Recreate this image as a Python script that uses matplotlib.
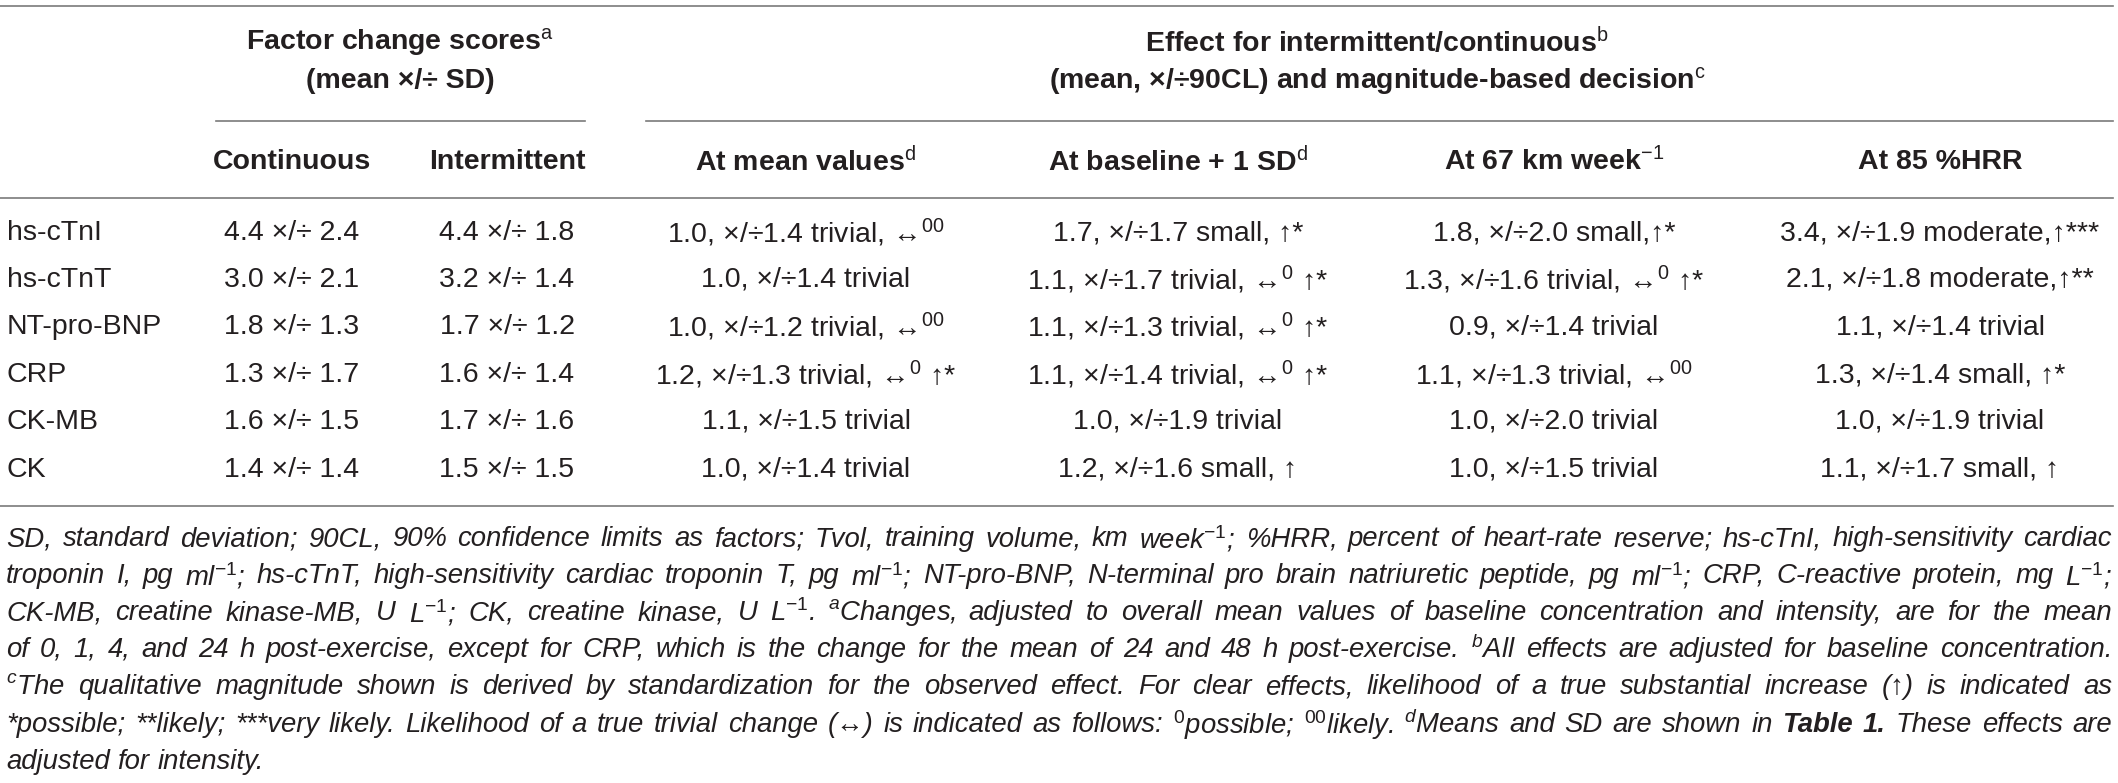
import numpy as np
import matplotlib
matplotlib.use('Agg')
import matplotlib.pyplot as plt

# fonts
plt.rcParams['font.family'] = ['Liberation Sans', 'DejaVu Sans']
plt.rcParams['mathtext.fontset'] = 'custom'
plt.rcParams['mathtext.rm'] = 'Liberation Sans'
plt.rcParams['mathtext.it'] = 'Liberation Sans:italic'
plt.rcParams['mathtext.bf'] = 'Liberation Sans:bold'

# table content
markers = ['hs-cTnI', 'hs-cTnT', 'NT-pro-BNP', 'CRP', 'CK-MB', 'CK']
continuous = ['4.4 ×/÷ 2.4', '3.0 ×/÷ 2.1', '1.8 ×/÷ 1.3', '1.3 ×/÷ 1.7', '1.6 ×/÷ 1.5', '1.4 ×/÷ 1.4']
intermittent = ['4.4 ×/÷ 1.8', '3.2 ×/÷ 1.4', '1.7 ×/÷ 1.2', '1.6 ×/÷ 1.4', '1.7 ×/÷ 1.6', '1.5 ×/÷ 1.5']
at_mean = ['1.0, ×/÷1.4 trivial, ↔$^{00}$', '1.0, ×/÷1.4 trivial', '1.0, ×/÷1.2 trivial, ↔$^{00}$',
           '1.2, ×/÷1.3 trivial, ↔$^{0}$ ↑*', '1.1, ×/÷1.5 trivial', '1.0, ×/÷1.4 trivial']
at_baseline = ['1.7, ×/÷1.7 small, ↑*', '1.1, ×/÷1.7 trivial, ↔$^{0}$ ↑*', '1.1, ×/÷1.3 trivial, ↔$^{0}$ ↑*',
               '1.1, ×/÷1.4 trivial, ↔$^{0}$ ↑*', '1.0, ×/÷1.9 trivial', '1.2, ×/÷1.6 small, ↑']
at_67km = ['1.8, ×/÷2.0 small,↑*', '1.3, ×/÷1.6 trivial, ↔$^{0}$ ↑*', '0.9, ×/÷1.4 trivial',
           '1.1, ×/÷1.3 trivial, ↔$^{00}$', '1.0, ×/÷2.0 trivial', '1.0, ×/÷1.5 trivial']
at_85hrr = ['3.4, ×/÷1.9 moderate,↑***', '2.1, ×/÷1.8 moderate,↑**', '1.1, ×/÷1.4 trivial',
            '1.3, ×/÷1.4 small, ↑*', '1.0, ×/÷1.9 trivial', '1.1, ×/÷1.7 small, ↑']

group_headers = [('Factor change scores$^{\\mathrm{a}}$', '(mean ×/÷ SD)'),
                 ('Effect for intermittent/continuous$^{\\mathrm{b}}$',
                  '(mean, ×/÷90CL) and magnitude-based decision$^{\\mathrm{c}}$')]
col_headers = ['Continuous', 'Intermittent', 'At mean values$^{\\mathrm{d}}$',
               'At baseline + 1 SD$^{\\mathrm{d}}$', 'At 67 km week$^{-1}$', 'At 85 %HRR']

footnote = [
    'SD, standard deviation; 90CL, 90% confidence limits as factors; Tvol, training volume, km week$^{-1}$; %HRR, percent of heart-rate reserve; hs-cTnI, high-sensitivity cardiac',
    'troponin I, pg ml$^{-1}$; hs-cTnT, high-sensitivity cardiac troponin T, pg ml$^{-1}$; NT-pro-BNP, N-terminal pro brain natriuretic peptide, pg ml$^{-1}$; CRP, C-reactive protein, mg L$^{-1}$;',
    'CK-MB, creatine kinase-MB, U L$^{-1}$; CK, creatine kinase, U L$^{-1}$. $^{a}$Changes, adjusted to overall mean values of baseline concentration and intensity, are for the mean',
    'of 0, 1, 4, and 24 h post-exercise, except for CRP, which is the change for the mean of 24 and 48 h post-exercise. $^{b}$All effects are adjusted for baseline concentration.',
    '$^{c}$The qualitative magnitude shown is derived by standardization for the observed effect. For clear effects, likelihood of a true substantial increase (↑) is indicated as',
    '*possible; **likely; ***very likely. Likelihood of a true trivial change (↔) is indicated as follows: $^{0}$possible; $^{00}$likely. $^{d}$Means and SD are shown in !Table !1. These effects are',
    'adjusted for intensity.',
]

W, H = 2118, 783
fig = plt.figure(figsize=(W / 100, H / 100), dpi=100)
ax = fig.add_axes([0, 0, 1, 1])
ax.set_xlim(0, W)
ax.set_ylim(H, 0)
ax.axis('off')

txt_col = '#231f20'
rule_col = '#7a7a7a'
fs = 20.5

col_x = [292, 507, 806, 1178, 1554, 1940]
row_y = [233, 280, 327, 375, 422, 470]

# rules
ax.plot([0, 2113], [6, 6], color=rule_col, lw=1.2)
ax.plot([216, 585], [121, 121], color=rule_col, lw=1.2)
ax.plot([646, 2113], [121, 121], color=rule_col, lw=1.2)
ax.plot([0, 2113], [198, 198], color=rule_col, lw=1.2)
ax.plot([0, 2113], [506, 506], color=rule_col, lw=1.2)

# group headers
for (l1, l2), cx in zip(group_headers, [400, 1377]):
    ax.text(cx, 42, l1, ha='center', va='center', fontsize=fs, fontweight='bold', color=txt_col)
    ax.text(cx, 81, l2, ha='center', va='center', fontsize=fs, fontweight='bold', color=txt_col)

for h, cx in zip(col_headers, col_x):
    ax.text(cx, 162, h, ha='center', va='center', fontsize=fs, fontweight='bold', color=txt_col)

columns = [continuous, intermittent, at_mean, at_baseline, at_67km, at_85hrr]
for i, m in enumerate(markers):
    ax.text(7, row_y[i], m, ha='left', va='center', fontsize=fs, color=txt_col)
    for col, cx in zip(columns, col_x):
        ax.text(cx, row_y[i], col[i], ha='center', va='center', fontsize=fs, color=txt_col)

# footnote, justified
fig.canvas.draw()
renderer = fig.canvas.get_renderer()
fn_fs = 19.8
fn_left, fn_right = 6, 2112
fn_y = [539, 576, 613, 650, 687, 725, 762]
for k, line in enumerate(footnote):
    words = line.split(' ')
    items = []
    for w in words:
        bold = w.startswith('!')
        t = ax.text(0, fn_y[k], w.lstrip('!'), ha='left', va='center', fontsize=fn_fs,
                    fontstyle='italic', fontweight='bold' if bold else 'normal', color=txt_col)
        items.append(t)
    widths = [t.get_window_extent(renderer).width for t in items]
    if k < len(footnote) - 1 and len(items) > 1:
        gap = (fn_right - fn_left - sum(widths)) / (len(items) - 1)
    else:
        gap = fn_fs * 100 / 72 * 0.28
    x = fn_left
    for t, w in zip(items, widths):
        t.set_x(x)
        x += w + gap

fig.savefig('out.png', dpi=100)
